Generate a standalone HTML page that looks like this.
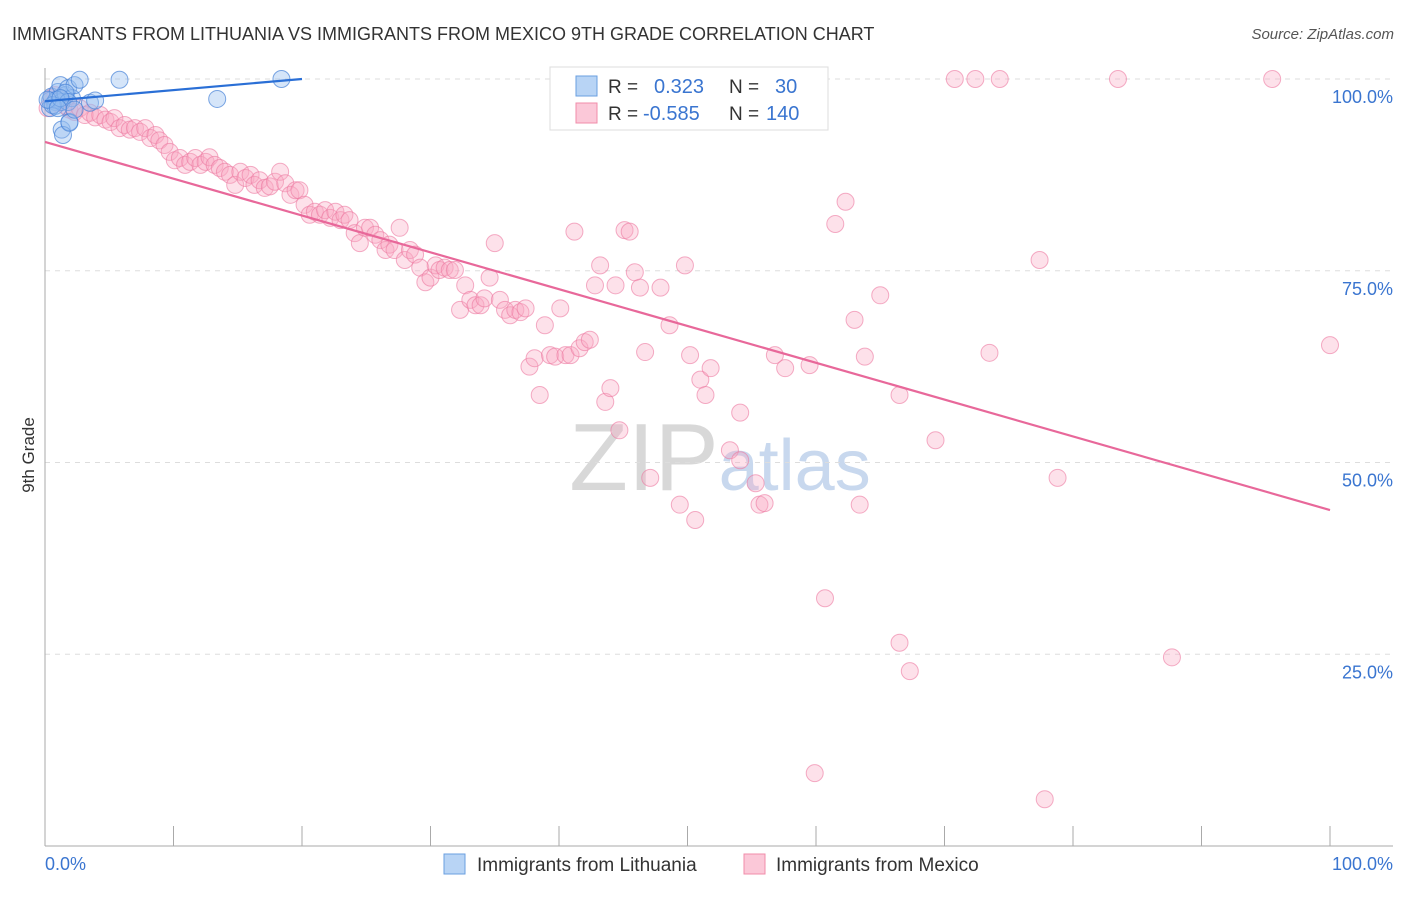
<!DOCTYPE html>
<html><head><meta charset="utf-8"><style>
body{margin:0;background:#fff;font-family:"Liberation Sans",sans-serif;}
svg text{font-family:"Liberation Sans",sans-serif;}
</style></head><body>
<svg id="chart" width="1406" height="892">
<text x="12" y="40" font-size="18" fill="#333">IMMIGRANTS FROM LITHUANIA VS IMMIGRANTS FROM MEXICO 9TH GRADE CORRELATION CHART</text>
<text x="1394" y="39" font-size="15" fill="#555" font-style="italic" text-anchor="end">Source: ZipAtlas.com</text>
<text x="720" y="490" font-size="96" fill="#ddd" text-anchor="middle" font-family="Liberation Serif"><tspan fill="#d8d8d8">ZIP</tspan><tspan font-family="Liberation Sans" font-size="72" fill="#c8d8ee">atlas</tspan></text>
<g id="grid"></g><g id="axes"></g><g id="points"></g><g id="lines"></g>
<text x="34" y="455" font-size="17" fill="#333" transform="rotate(-90 34 455)" text-anchor="middle">9th Grade</text>
<g>
<rect x="550" y="67" width="278" height="63" fill="#fff" stroke="#ddd"/>
<rect x="576" y="76" width="21" height="20" fill="#b8d4f5" stroke="#6a9fe0"/>
<rect x="576" y="103" width="21" height="20" fill="#fbc8d8" stroke="#f08caa"/>
<text x="608" y="93" font-size="19" fill="#333">R = </text><text x="654" y="93" font-size="20" fill="#3a75d0">0.323</text>
<text x="729" y="93" font-size="19" fill="#333">N = </text><text x="775" y="93" font-size="20" fill="#3a75d0">30</text>
<text x="608" y="120" font-size="19" fill="#333">R = </text><text x="643" y="120" font-size="20" fill="#3a75d0">-0.585</text>
<text x="729" y="120" font-size="19" fill="#333">N = </text><text x="766" y="120" font-size="20" fill="#3a75d0">140</text>
</g>
<g>
<rect x="444" y="854" width="21" height="20" fill="#b8d4f5" stroke="#6a9fe0"/>
<text x="477" y="871" font-size="19" fill="#333">Immigrants from Lithuania</text>
<rect x="744" y="854" width="21" height="20" fill="#fbc8d8" stroke="#f08caa"/>
<text x="776" y="871" font-size="19" fill="#333">Immigrants from Mexico</text>
</g>
</svg>
<script>
const yTicks=[100,75,50,25];
const yTickLabels=["100.0%","75.0%","50.0%","25.0%"];
const xTicks=[0,10,20,30,40,50,60,70,80,90,100];
const xEndLabels=["0.0%","100.0%"];
const blueX=[0.4,0.5,0.8,1.0,1.2,1.3,1.6,1.8,1.9,2.1,2.3,2.7,0.4,0.8,1.3,1.6,0.9,1.8,3.5,3.9,5.8,13.4,18.4,0.6,0.2,1.2,1.0,1.4,1.9,2.3];
const blueY=[97.2,97.7,97.0,98.3,99.2,93.4,97.9,98.8,94.4,97.5,99.2,99.9,96.2,96.5,97.0,98.2,97.3,97.0,96.9,97.2,99.9,97.4,100,96.6,97.3,97.5,96.2,92.7,94.3,96.0];
const pinkX=[0.2,0.5,0.8,1.0,1.3,1.6,1.9,2.3,2.7,3.1,3.5,3.9,4.3,4.7,5.1,5.4,5.8,6.2,6.6,7.0,7.4,7.8,8.2,8.6,8.9,9.3,9.7,10.1,10.5,10.9,11.3,11.7,12.1,12.5,12.8,13.2,13.6,14.0,14.4,14.8,15.2,15.6,16.0,16.3,16.7,17.1,17.5,17.9,18.3,18.7,19.1,19.5,19.8,20.2,20.6,21.0,21.4,21.8,22.2,22.6,23.0,23.3,23.7,24.1,24.5,24.9,25.3,25.7,26.1,26.5,26.8,27.2,27.6,28.0,28.4,28.8,29.2,29.6,30.0,30.4,30.7,31.1,31.5,31.9,32.3,32.7,33.1,33.5,33.9,34.2,34.6,35.0,35.4,35.8,36.2,36.6,37.0,37.4,37.7,38.1,38.5,38.9,39.3,39.7,40.1,40.5,40.9,41.2,41.6,42.0,42.4,42.8,43.2,43.6,44.0,44.4,44.7,45.1,45.5,45.9,46.3,46.7,47.1,47.9,48.6,49.4,49.8,50.2,50.6,51.0,51.4,51.8,53.3,54.1,54.1,55.3,55.6,56.0,56.8,57.6,58.8,59.5,59.9,60.7,61.5,62.3,63.0,63.4,63.8,65.0,66.5,66.5,67.3,69.3,70.8,72.4,73.5,74.3,77.4,77.8,78.8,83.5,87.7,95.5,100,47.9];
const pinkY=[96.2,97.5,97.9,96.9,97.3,96.5,96.0,95.7,96.2,95.3,95.6,95.0,95.3,94.7,94.4,94.9,93.6,94.0,93.4,93.6,93.1,93.6,92.3,92.7,92.0,91.4,90.5,89.4,89.7,88.8,89.2,89.7,88.8,89.2,89.8,88.8,88.4,87.9,87.5,86.2,87.9,87.1,87.5,86.2,86.8,85.8,86.0,86.6,87.9,86.4,84.9,85.5,85.5,83.6,82.3,82.7,82.3,82.9,81.9,82.7,81.6,82.3,81.6,79.9,78.6,80.6,80.6,79.7,79.0,77.7,78.4,77.7,80.6,76.4,77.7,77.1,75.4,73.5,74.1,75.7,75.1,75.4,75.1,75.1,69.9,73.1,71.2,70.5,70.5,71.4,74.1,78.6,71.2,69.9,69.2,69.9,69.6,70.1,62.5,63.6,58.8,67.9,64.0,63.8,70.1,64.0,64.0,80.1,64.9,65.7,66.0,73.1,75.7,57.9,59.7,73.1,54.2,80.3,80.1,74.8,72.8,64.4,48.0,72.8,67.9,44.5,75.7,64.0,42.5,60.8,58.8,62.3,51.6,50.3,56.5,47.3,44.5,44.7,64.0,62.3,100,62.7,9.5,32.3,81.1,84.0,68.6,44.5,63.8,71.8,58.8,26.5,22.8,52.9,100,100,64.3,100,76.4,6.1,48.0,100,24.6,100,65.3,100];
const blueLineX=[0,20];const blueLineY=[97.1,100];
const pinkLineX=[0,100];const pinkLineY=[91.8,43.8];
const X0=45,X1=1330,Y0=846,Y100=79;
const sx=v=>X0+(X1-X0)*v/100, sy=v=>Y0-(Y0-Y100)*v/100;
const NS="http://www.w3.org/2000/svg";
function mk(tag,parent,attrs){const e=document.createElementNS(NS,tag);for(const k in attrs)e.setAttribute(k,attrs[k]);document.getElementById(parent).appendChild(e);return e;}
yTicks.forEach((t,i)=>{
 const l=mk('line','grid',{x1:X0,x2:1393,y1:sy(t),y2:sy(t),stroke:'#ddd','stroke-dasharray':'5,5'});
 
 
 const tx=mk('text','grid',{x:1393,y:sy(t)+24,'font-size':18,fill:'#3a75d0','text-anchor':'end'});
 tx.textContent=yTickLabels[i];
 
 
});
const ax=mk('line','axes',{x1:X0,x2:X0,y1:68,y2:Y0,stroke:'#aaa'});


const bx=mk('line','axes',{x1:X0,x2:1393,y1:Y0,y2:Y0,stroke:'#aaa'});


xTicks.forEach(t=>{
 const l=mk('line','axes',{x1:sx(t),x2:sx(t),y1:826,y2:Y0,stroke:'#aaa'});
 
 
});
const xl0=mk('text','axes',{x:45,y:870,'font-size':18,fill:'#3a75d0'});xl0.textContent=xEndLabels[0];


const xl1=mk('text','axes',{x:1393,y:870,'font-size':18,fill:'#3a75d0','text-anchor':'end'});xl1.textContent=xEndLabels[1];


pinkX.forEach((x,i)=>{
 const c=mk('circle','points',{cx:sx(x),cy:sy(pinkY[i]),r:8.5,fill:'rgba(248,168,196,0.35)',stroke:'rgba(236,120,160,0.6)'});
 
 
});
blueX.forEach((x,i)=>{
 const c=mk('circle','points',{cx:sx(x),cy:sy(blueY[i]),r:8.5,fill:'rgba(150,190,240,0.4)',stroke:'rgba(70,130,215,0.7)'});
 
 
});
const bl=mk('line','lines',{x1:sx(blueLineX[0]),y1:sy(blueLineY[0]),x2:sx(blueLineX[1]),y2:sy(blueLineY[1]),stroke:'#2a6fd6','stroke-width':2.2});


const pl=mk('line','lines',{x1:sx(pinkLineX[0]),y1:sy(pinkLineY[0]),x2:sx(pinkLineX[1]),y2:sy(pinkLineY[1]),stroke:'#e8689a','stroke-width':2.2});


</script>
</body></html>
